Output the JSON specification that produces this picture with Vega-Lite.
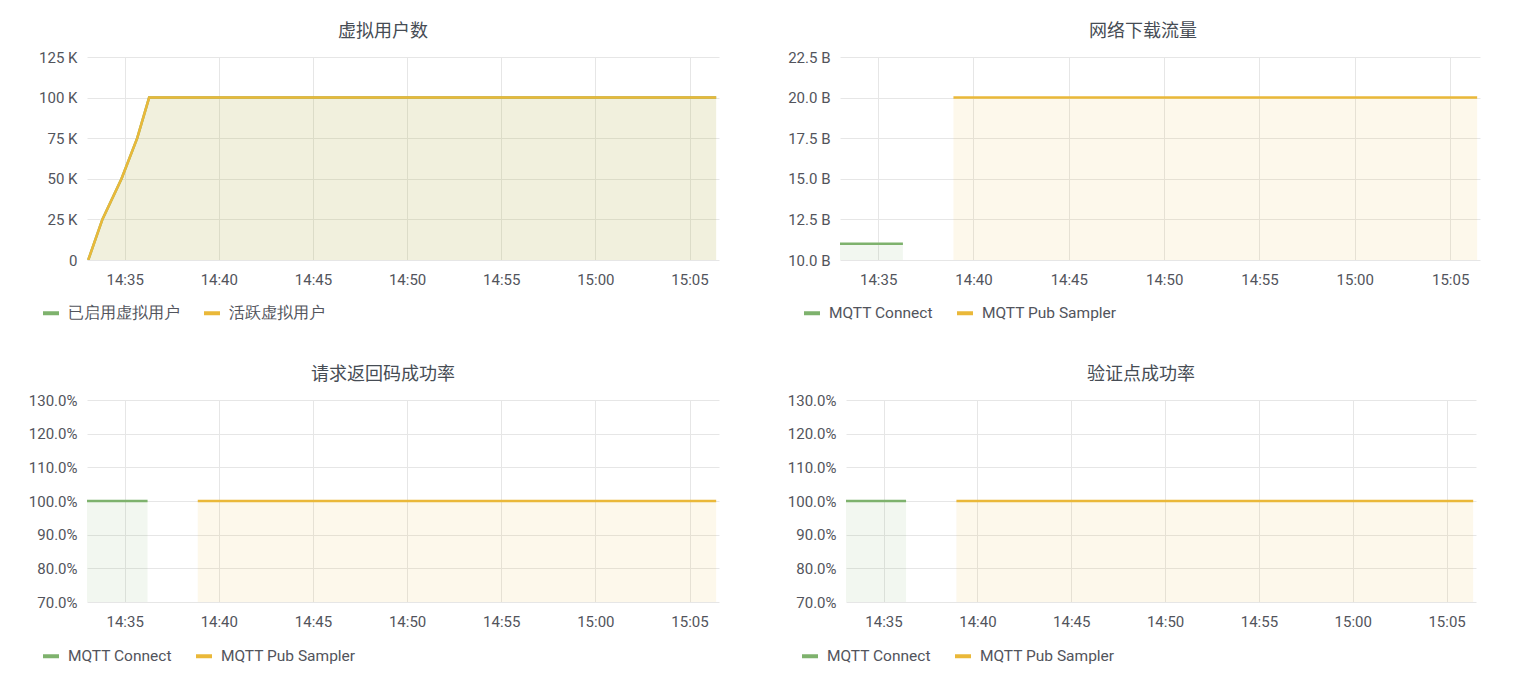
{
  "$schema": "https://vega.github.io/schema/vega-lite/v6.json",
  "background": "#ffffff",
  "padding": {"left": 28, "top": 23, "right": 5, "bottom": 5},
  "datasets": {
    "users": [
      {"t": "2023-01-01T14:33:04", "s": "已启用虚拟用户", "v": 0},
      {"t": "2023-01-01T14:33:49", "s": "已启用虚拟用户", "v": 25000},
      {"t": "2023-01-01T14:34:50", "s": "已启用虚拟用户", "v": 50000},
      {"t": "2023-01-01T14:35:40", "s": "已启用虚拟用户", "v": 75000},
      {"t": "2023-01-01T14:36:18", "s": "已启用虚拟用户", "v": 100000},
      {"t": "2023-01-01T14:45:00", "s": "已启用虚拟用户", "v": 100000},
      {"t": "2023-01-01T14:55:00", "s": "已启用虚拟用户", "v": 100000},
      {"t": "2023-01-01T15:06:25", "s": "已启用虚拟用户", "v": 100000},
      {"t": "2023-01-01T14:33:04", "s": "活跃虚拟用户", "v": 0},
      {"t": "2023-01-01T14:33:49", "s": "活跃虚拟用户", "v": 25000},
      {"t": "2023-01-01T14:34:50", "s": "活跃虚拟用户", "v": 50000},
      {"t": "2023-01-01T14:35:40", "s": "活跃虚拟用户", "v": 75000},
      {"t": "2023-01-01T14:36:18", "s": "活跃虚拟用户", "v": 100000},
      {"t": "2023-01-01T14:45:00", "s": "活跃虚拟用户", "v": 100000},
      {"t": "2023-01-01T14:55:00", "s": "活跃虚拟用户", "v": 100000},
      {"t": "2023-01-01T15:06:25", "s": "活跃虚拟用户", "v": 100000}
    ],
    "net": [
      {"t": "2023-01-01T14:33:00", "s": "MQTT Connect", "v": 11.0},
      {"t": "2023-01-01T14:34:30", "s": "MQTT Connect", "v": 11.0},
      {"t": "2023-01-01T14:36:18", "s": "MQTT Connect", "v": 11.0},
      {"t": "2023-01-01T14:38:57", "s": "MQTT Pub Sampler", "v": 20.0},
      {"t": "2023-01-01T14:50:00", "s": "MQTT Pub Sampler", "v": 20.0},
      {"t": "2023-01-01T15:06:25", "s": "MQTT Pub Sampler", "v": 20.0}
    ],
    "rc": [
      {"t": "2023-01-01T14:33:00", "s": "MQTT Connect", "v": 1.0},
      {"t": "2023-01-01T14:34:30", "s": "MQTT Connect", "v": 1.0},
      {"t": "2023-01-01T14:36:13", "s": "MQTT Connect", "v": 1.0},
      {"t": "2023-01-01T14:38:53", "s": "MQTT Pub Sampler", "v": 1.0},
      {"t": "2023-01-01T14:50:00", "s": "MQTT Pub Sampler", "v": 1.0},
      {"t": "2023-01-01T15:06:25", "s": "MQTT Pub Sampler", "v": 1.0}
    ],
    "chk": [
      {"t": "2023-01-01T14:33:00", "s": "MQTT Connect", "v": 1.0},
      {"t": "2023-01-01T14:34:30", "s": "MQTT Connect", "v": 1.0},
      {"t": "2023-01-01T14:36:12", "s": "MQTT Connect", "v": 1.0},
      {"t": "2023-01-01T14:38:53", "s": "MQTT Pub Sampler", "v": 1.0},
      {"t": "2023-01-01T14:50:00", "s": "MQTT Pub Sampler", "v": 1.0},
      {"t": "2023-01-01T15:06:25", "s": "MQTT Pub Sampler", "v": 1.0}
    ]
  },
  "concat": [
    {
      "width": 632, "height": 203,
      "title": {"text": "虚拟用户数", "dx": -20},
      "data": {"name": "users"},
      "encoding": {
        "x": {"field": "t", "type": "temporal", "title": null,
          "scale": {"domain": ["2023-01-01T14:33:00", "2023-01-01T15:06:34"]},
          "axis": {"format": "%H:%M", "values": ["2023-01-01T14:35:00", "2023-01-01T14:40:00", "2023-01-01T14:45:00", "2023-01-01T14:50:00", "2023-01-01T14:55:00", "2023-01-01T15:00:00", "2023-01-01T15:05:00"], "labelFlush": false, "labelPadding": 12}},
        "y": {"field": "v", "type": "quantitative", "title": null, "stack": null,
          "scale": {"domain": [0, 125000], "nice": false, "zero": false},
          "axis": {"values": [0, 25000, 50000, 75000, 100000, 125000], "labelExpr": "datum.value == 0 ? '0' : (datum.value / 1000) + ' K'"}},
        "color": {"field": "s", "type": "nominal",
          "scale": {"domain": ["已启用虚拟用户", "活跃虚拟用户"], "range": ["#7eb26d", "#eab839"]},
          "legend": {"title": null, "orient": "none", "direction": "horizontal", "legendX": -46, "legendY": 246}}
      },
      "layer": [
        {"mark": {"type": "area", "fillOpacity": 0.1, "clip": true}, "encoding": {}},
        {"mark": {"type": "line", "strokeWidth": 2.5, "clip": true}, "encoding": {}}
      ]
    },
    {
      "width": 640, "height": 203,
      "title": {"text": "网络下载流量", "dx": -17},
      "data": {"name": "net"},
      "encoding": {
        "x": {"field": "t", "type": "temporal", "title": null,
          "scale": {"domain": ["2023-01-01T14:33:00", "2023-01-01T15:06:34"]},
          "axis": {"format": "%H:%M", "values": ["2023-01-01T14:35:00", "2023-01-01T14:40:00", "2023-01-01T14:45:00", "2023-01-01T14:50:00", "2023-01-01T14:55:00", "2023-01-01T15:00:00", "2023-01-01T15:05:00"], "labelFlush": false, "labelPadding": 12}},
        "y": {"field": "v", "type": "quantitative", "title": null, "stack": null,
          "scale": {"domain": [10, 22.5], "nice": false, "zero": false},
          "axis": {"values": [10, 12.5, 15, 17.5, 20, 22.5], "labelExpr": "format(datum.value, '.1f') + ' B'"}},
        "color": {"field": "s", "type": "nominal",
          "scale": {"domain": ["MQTT Connect", "MQTT Pub Sampler"], "range": ["#7eb26d", "#eab839"]},
          "legend": {"title": null, "orient": "none", "direction": "horizontal", "legendX": -38, "legendY": 246}}
      },
      "layer": [
        {"mark": {"type": "area", "fillOpacity": 0.1, "clip": true}, "encoding": {}},
        {"mark": {"type": "line", "strokeWidth": 2.5, "clip": true}, "encoding": {}}
      ]
    },
    {
      "width": 632, "height": 202,
      "title": {"text": "请求返回码成功率", "dx": -20},
      "data": {"name": "rc"},
      "encoding": {
        "x": {"field": "t", "type": "temporal", "title": null,
          "scale": {"domain": ["2023-01-01T14:33:00", "2023-01-01T15:06:34"]},
          "axis": {"format": "%H:%M", "values": ["2023-01-01T14:35:00", "2023-01-01T14:40:00", "2023-01-01T14:45:00", "2023-01-01T14:50:00", "2023-01-01T14:55:00", "2023-01-01T15:00:00", "2023-01-01T15:05:00"], "labelFlush": false, "labelPadding": 12}},
        "y": {"field": "v", "type": "quantitative", "title": null, "stack": null,
          "scale": {"domain": [0.7, 1.3], "nice": false, "zero": false},
          "axis": {"values": [0.7, 0.8, 0.9, 1.0, 1.1, 1.2, 1.3], "format": ".1%"}},
        "color": {"field": "s", "type": "nominal",
          "scale": {"domain": ["MQTT Connect", "MQTT Pub Sampler"], "range": ["#7eb26d", "#eab839"]},
          "legend": {"title": null, "orient": "none", "direction": "horizontal", "legendX": -46, "legendY": 246}}
      },
      "layer": [
        {"mark": {"type": "area", "fillOpacity": 0.1, "clip": true}, "encoding": {}},
        {"mark": {"type": "line", "strokeWidth": 2.5, "clip": true}, "encoding": {}}
      ]
    },
    {
      "width": 630, "height": 202,
      "title": {"text": "验证点成功率", "dx": -20},
      "data": {"name": "chk"},
      "encoding": {
        "x": {"field": "t", "type": "temporal", "title": null,
          "scale": {"domain": ["2023-01-01T14:33:00", "2023-01-01T15:06:34"]},
          "axis": {"format": "%H:%M", "values": ["2023-01-01T14:35:00", "2023-01-01T14:40:00", "2023-01-01T14:45:00", "2023-01-01T14:50:00", "2023-01-01T14:55:00", "2023-01-01T15:00:00", "2023-01-01T15:05:00"], "labelFlush": false, "labelPadding": 12}},
        "y": {"field": "v", "type": "quantitative", "title": null, "stack": null,
          "scale": {"domain": [0.7, 1.3], "nice": false, "zero": false},
          "axis": {"values": [0.7, 0.8, 0.9, 1.0, 1.1, 1.2, 1.3], "format": ".1%"}},
        "color": {"field": "s", "type": "nominal",
          "scale": {"domain": ["MQTT Connect", "MQTT Pub Sampler"], "range": ["#7eb26d", "#eab839"]},
          "legend": {"title": null, "orient": "none", "direction": "horizontal", "legendX": -46, "legendY": 246}}
      },
      "layer": [
        {"mark": {"type": "area", "fillOpacity": 0.1, "clip": true}, "encoding": {}},
        {"mark": {"type": "line", "strokeWidth": 2.5, "clip": true}, "encoding": {}}
      ]
    }
  ],
  "columns": 2,
  "align": "none",
  "spacing": {"row": 44, "column": 68},
  "resolve": {"scale": {"color": "independent"}},
  "config": {
    "view": {"stroke": null},
    "axis": {"labelFont": "Roboto", "labelFontSize": 15, "labelColor": "#52545c", "gridColor": "#e6e6e6", "domain": false, "ticks": false, "labelPadding": 10},
    "title": {"font": "Noto Sans CJK SC", "fontSize": 18, "fontWeight": "normal", "color": "#464c54", "anchor": "middle", "offset": 9},
    "legend": {"labelFont": "Roboto", "labelFontSize": 15.5, "labelColor": "#52545c", "symbolType": "stroke", "symbolStrokeWidth": 4, "symbolSize": 256, "columnPadding": 16, "labelOffset": 7}
  }
}
